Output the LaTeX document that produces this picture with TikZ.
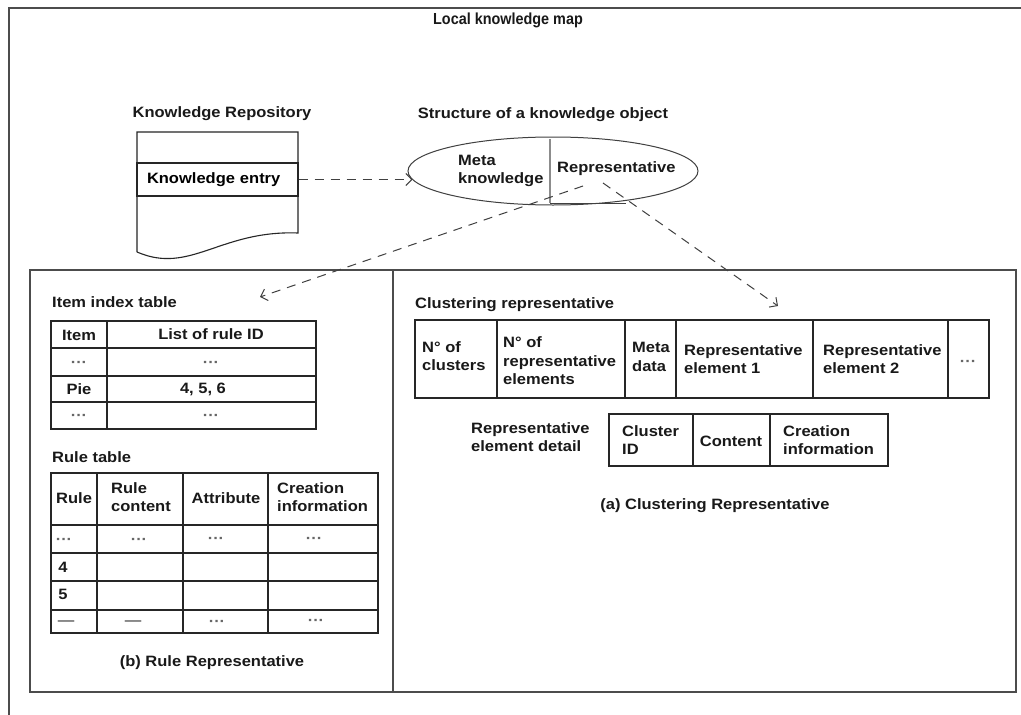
\documentclass[tikz,border=0pt]{standalone}
\usepackage{fontspec}
\setmainfont{Liberation Sans}[BoldFont=*-Bold, FakeStretch=1.1]
\newfontfamily\titlefont{Liberation Sans}[BoldFont=*-Bold, FakeStretch=0.9]
\usetikzlibrary{arrows.meta,calc,shapes.geometric}
\begin{document}
\begin{tikzpicture}[x=1pt,y=-1pt,
  lbl/.style={inner sep=0pt, align=left, font=\bfseries\fontsize{15}{18.5}\selectfont, text=black!90},
  dots/.style={inner sep=0pt, font=\bfseries\fontsize{15}{18}\selectfont, text=black!60, yshift=-3pt},
  frame/.style={draw=black!70, line width=1.4pt},
  grid/.style={draw=black!85, line width=1.4pt},
  link/.style={draw=black!75, line width=1pt, dash pattern=on 9pt off 7pt,
    -{Straight Barb[length=6pt,width=12pt]}}
]
\useasboundingbox (0,0) rectangle (1021,715);
\fill[white] (0,0) rectangle (1021,715);

% outer frame of the map
\draw[frame] (9,715) -- (9,8) -- (1021,8);
\node[lbl, font=\titlefont\bfseries\fontsize{16}{18}\selectfont] (title) at (508,20) {Local knowledge map};

% knowledge repository (document shape)
\node[lbl] (repotitle) at (222,114) {Knowledge Repository};
\draw[grid, line width=1.1pt] (137,252) -- (137,132) -- (298,132) -- (298,233)
  .. controls (220,230) and (190,275) .. (137,252);
\draw[grid, line width=1.1pt] (137,163) -- (298,163);
\node[grid, line width=1.1pt, minimum width=161pt, minimum height=33pt, inner sep=0pt,
  text width=141pt, align=left, font=\bfseries\fontsize{15}{18}\selectfont]
  (kentry) at (217.5,179.5) {Knowledge entry};

% structure of a knowledge object
\node[lbl] (objtitle) at (543,115) {Structure of a knowledge object};
\node[draw=black!75, line width=1pt, ellipse, minimum width=290pt, minimum height=68pt, inner sep=0pt]
  (obj) at (553,171) {};
\draw[black!45, line width=2pt] (550,139) -- (550,203);
\draw[black!75, line width=1pt] (550,203) -- (626,203);
\node[lbl, anchor=west] (meta) at (458,171) {Meta\\knowledge};
\node[lbl, anchor=west] (repr) at (557,169) {Representative};

% representation panels
\draw[frame] (30,270) rectangle (1016,692);
\draw[frame] (393,270) -- (393,692);

% ---- rule representative ----
\node[lbl, anchor=west] (itemtitle) at (52,302) {Item index table};
\draw[grid] (51,321) rectangle (316,429);
\foreach \y in {348,376,402} \draw[grid] (51,\y) -- (316,\y);
\draw[grid] (107,321) -- (107,429);
\node[lbl] (ih1) at (79,335) {Item};
\node[lbl] (ih2) at (211,334) {List of rule ID};
\node[dots] (i11) at (79,361) {···};
\node[dots] (i12) at (211,361) {···};
\node[lbl] (i21) at (79,389) {Pie};
\node[lbl] (i22) at (203,389) {4, 5, 6};
\node[dots] (i31) at (79,414) {···};
\node[dots] (i32) at (211,414) {···};

\node[lbl, anchor=west] (ruletitle) at (52,457) {Rule table};
\draw[grid] (51,473) rectangle (378,633);
\foreach \y in {525,553,581,610} \draw[grid] (51,\y) -- (378,\y);
\foreach \x in {97,183,268} \draw[grid] (\x,473) -- (\x,633);
\node[lbl, anchor=west] (rh1) at (56,498) {Rule};
\node[lbl, anchor=west] (rh2) at (111,497) {Rule\\content};
\node[lbl] (rh3) at (226,498) {Attribute};
\node[lbl, anchor=west] (rh4) at (277,497) {Creation\\information};
\node[dots] (r11) at (64,538) {···};
\node[dots] (r12) at (139,538) {···};
\node[dots] (r13) at (216,537) {···};
\node[dots] (r14) at (314,537) {···};
\node[lbl] (r21) at (63,567) {4};
\node[lbl] (r31) at (63,594) {5};
\node[dots, yshift=1pt] (r41) at (66,621) {---};
\node[dots, yshift=1pt] (r42) at (133,621) {---};
\node[dots] (r43) at (217,620) {···};
\node[dots] (r44) at (316,619) {···};
\node[lbl] (bcap) at (212,663) {(b) Rule Representative};

% ---- clustering representative ----
\node[lbl, anchor=west] (clustitle) at (415,305) {Clustering representative};
\draw[grid] (415,320) rectangle (989,398);
\foreach \x in {497,625,676,813,948} \draw[grid] (\x,320) -- (\x,398);
\node[lbl, anchor=west] (c1) at (422,356) {N° of\\clusters};
\node[lbl, anchor=west] (c2) at (503,361) {N° of\\representative\\elements};
\node[lbl, anchor=west] (c3) at (632,357) {Meta\\data};
\node[lbl, anchor=west] (c4) at (684,359) {Representative\\element 1};
\node[lbl, anchor=west] (c5) at (823,359) {Representative\\element 2};
\node[dots] (c6) at (968,360) {···};

\node[lbl, anchor=west] (detail) at (471,437) {Representative\\element detail};
\draw[grid] (609,414) rectangle (888,466);
\foreach \x in {693,770} \draw[grid] (\x,414) -- (\x,466);
\node[lbl, anchor=west] (d1) at (622,440) {Cluster\\ID};
\node[lbl] (d2) at (731,441) {Content};
\node[lbl, anchor=west] (d3) at (783,440) {Creation\\information};
\node[lbl] (acap) at (715,506) {(a) Clustering Representative};

% ---- links ----
\coordinate (ruleend) at (260,297);
\coordinate (clusend) at (778,306);
\coordinate (repA) at ([shift={(30,15)}]obj.center);
\coordinate (repB) at ([shift={(50,12)}]obj.center);
\draw[link] (kentry.east) -- ([xshift=5pt]kentry.east -| obj.west);
\draw[link] (repA) -- (ruleend);
\draw[link] (repB) -- (clusend);
\end{tikzpicture}
\end{document}
